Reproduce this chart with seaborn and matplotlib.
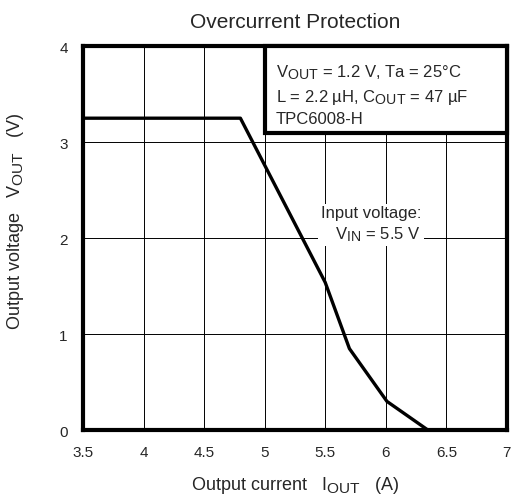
import numpy as np
import pandas as pd
import matplotlib
matplotlib.use("Agg")
import matplotlib.pyplot as plt
import matplotlib._mathtext as mt
from matplotlib.patches import Rectangle
import seaborn as sns

sns.set_style("white")
plt.rcParams['font.family'] = ['Liberation Sans', 'DejaVu Sans']
plt.rcParams['mathtext.fontset'] = 'custom'
plt.rcParams['mathtext.rm'] = 'Liberation Sans'
plt.rcParams['mathtext.it'] = 'Liberation Sans'
mt.SHRINK_FACTOR = 0.85  # subscripts nearly full size, like the datasheet

# curve
iout = [3.5, 4.80, 5.50, 5.70, 6.01, 6.35]
vout = [3.25, 3.25, 1.54, 0.85, 0.30, 0.0]
x_ticks = [3.5, 4, 4.5, 5, 5.5, 6, 6.5, 7]
x_labels = ["3.5", "4", "4.5", "5", "5.5", "6", "6.5", "7"]
y_ticks = [0, 1, 2, 3, 4]

df = pd.DataFrame({"iout": iout, "vout": vout})

fig = plt.figure(figsize=(5.12, 5.02), dpi=100)
ax = fig.add_axes([0.162, 0.141, 0.828, 0.765])

sns.lineplot(data=df, x="iout", y="vout", sort=False, color="black", lw=2.4, ax=ax, zorder=3)

ax.set_xlim(3.5, 7)
ax.set_ylim(0, 4)
ax.set_xticks(x_ticks)
ax.set_xticklabels(x_labels)
ax.set_yticks(y_ticks)
ax.grid(True, color="black", lw=0.7)
ax.tick_params(length=0, labelsize=11, pad=11)
for s in ax.spines.values():
    s.set_linewidth(3)
    s.set_color("black")

# condition box, top right
ax.add_patch(Rectangle((5.0, 3.1), 2.0, 0.9, facecolor="white", edgecolor="black",
                       lw=3, zorder=4, clip_on=False))
ax.text(5.09, 3.83, "V$_{\\mathrm{OUT}}$ = 1.2 V, Ta = 25°C\nL = 2.2 µH, C$_{\\mathrm{OUT}}$ = 47 µF\nTPC6008-H",
        fontsize=12, va="top", ha="left", linespacing=1.4, zorder=5)

ax.text(6.29, 2.15, "Input voltage:\nV$_{\\mathrm{IN}}$ = 5.5 V", fontsize=12, ha="right", va="center",
        multialignment="right", linespacing=1.3,
        bbox=dict(facecolor="white", edgecolor="none", pad=2), zorder=4)

ax.set_title("Overcurrent Protection", fontsize=15, pad=14)
ax.set_xlabel("Output current   I$_{\\mathrm{OUT}}$   (A)", fontsize=13)
ax.set_ylabel("Output voltage   V$_{\\mathrm{OUT}}$   (V)", fontsize=13)
ax.xaxis.set_label_coords(0.5, -0.115)
ax.yaxis.set_label_coords(-0.135, 0.545)

fig.savefig("out.png", dpi=100)
